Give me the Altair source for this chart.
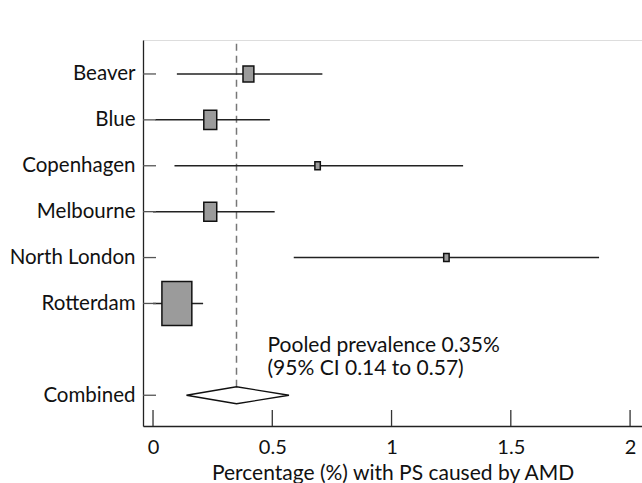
import altair as alt
import pandas as pd

# ---- data ----
studies = ["Beaver", "Blue", "Copenhagen", "Melbourne", "North London", "Rotterdam"]
rows = [1, 2, 3, 4, 5, 6]
estimate = [0.40, 0.24, 0.69, 0.24, 1.23, 0.10]
ci_low = [0.10, 0.01, 0.09, 0.00, 0.59, 0.00]
ci_high = [0.71, 0.49, 1.30, 0.51, 1.87, 0.21]
weight = [8.4, 11.9, 2.1, 11.9, 2.1, 63.6]  # study weight (%)

pooled_label = "Combined"
pooled_row = 8
pooled_est = 0.35
pooled_low = 0.14
pooled_high = 0.57

x_ticks = [0, 0.5, 1, 1.5, 2]
annotation = ["Pooled prevalence 0.35%", "(95% CI 0.14 to 0.57)"]

FONT = "Lato"
W, H = 499, 386

df = pd.DataFrame({"study": studies, "row": rows, "est": estimate,
                   "lo": ci_low, "hi": ci_high, "w": weight})

x_scale = alt.Scale(domain=[-0.042, 2.05], nice=False, zero=False)
y_scale = alt.Scale(domain=[0.26, 8.67], nice=False, zero=False, reverse=True)

all_rows = rows + [pooled_row]
label_list = "[''," + ",".join("'" + s + "'" for s in studies) + "]"
label_expr = f"datum.value == {pooled_row} ? '{pooled_label}' : {label_list}[datum.value]"

x_axis = alt.Axis(values=x_ticks, ticks=False, grid=False, labelPadding=11,
                  labelFontSize=20, labelFont=FONT, labelColor="#111",
                  title="Percentage (%) with PS caused by AMD", titleFont=FONT,
                  titleFontSize=21, titleFontWeight="normal", titleColor="#111",
                  titlePadding=5, domainColor="#222", domainWidth=1.3,
                  labelExpr="datum.value == 0 ? '0' : format(datum.value, '.2~f')")
y_axis = alt.Axis(values=all_rows, ticks=False, grid=False, labelPadding=8,
                  labelFontSize=20.5, labelFont=FONT, labelColor="#111",
                  labelExpr=label_expr, title=None, domainColor="#222",
                  domainWidth=1.3)

base = alt.Chart(df)

ci = base.mark_rule(color="#222", strokeWidth=1.5).encode(
    x=alt.X("lo:Q", scale=x_scale, axis=x_axis),
    x2="hi:Q",
    y=alt.Y("row:Q", scale=y_scale, axis=y_axis),
)

boxes = base.mark_point(
    shape="M-0.68,-1H0.68V1H-0.68Z", filled=True, fill="#9b9b9b",
    stroke="#111", strokeWidth=1.5, opacity=1, fillOpacity=1,
).encode(
    x=alt.X("est:Q", scale=x_scale),
    y=alt.Y("row:Q", scale=y_scale),
    size=alt.Size("w:Q", scale=alt.Scale(domain=[0, 63.6], range=[0, 1936]),
                  legend=None),
)

# diamond for the pooled estimate
half = 0.185
dia = pd.DataFrame({
    "x": [pooled_low, pooled_est, pooled_high, pooled_est, pooled_low],
    "y": [pooled_row, pooled_row - half, pooled_row, pooled_row + half, pooled_row],
    "o": [0, 1, 2, 3, 4],
})
diamond = alt.Chart(dia).mark_line(color="#111", strokeWidth=1.3).encode(
    x=alt.X("x:Q", scale=x_scale), y=alt.Y("y:Q", scale=y_scale), order="o:Q")

ref = alt.Chart(pd.DataFrame({"x": [pooled_est], "yb": [pooled_row - half]})).mark_rule(
    color="#777", strokeWidth=1.5, strokeDash=[7, 5]).encode(
    x=alt.X("x:Q", scale=x_scale), y=alt.Y("yb:Q", scale=y_scale),
    y2=alt.value(0))

# inward ticks
ytick = alt.Chart(pd.DataFrame({"row": all_rows})).mark_rule(
    color="#555", strokeWidth=1.3).encode(
    y=alt.Y("row:Q", scale=y_scale), x=alt.value(0), x2=alt.value(13))
xtick = alt.Chart(pd.DataFrame({"t": x_ticks})).mark_rule(
    color="#333", strokeWidth=1.3).encode(
    x=alt.X("t:Q", scale=x_scale), y=alt.value(H - 16), y2=alt.value(H))

text = alt.Chart(pd.DataFrame({"x": [0.48], "y": [6.93], "t": [annotation]})).mark_text(
    align="left", baseline="middle", font=FONT, fontSize=21, color="#111",
    lineHeight=23).encode(
    x=alt.X("x:Q", scale=x_scale), y=alt.Y("y:Q", scale=y_scale), text="t")

chart = alt.layer(ref, ci, boxes, diamond, ytick, xtick, text).properties(
    width=W, height=H,
    autosize=alt.AutoSizeParams(type="none"),
    padding={"left": 143, "top": 40, "right": 0, "bottom": 57},
).configure_view(stroke=None).configure(background="white")

chart.save("out.html", embed_options={"renderer": "svg", "actions": False})
